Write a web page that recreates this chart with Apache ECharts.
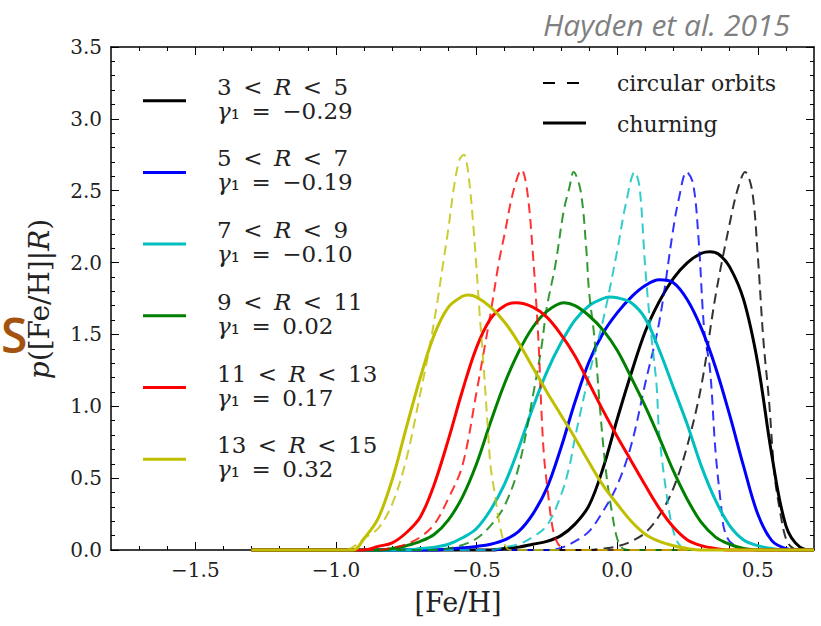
<!DOCTYPE html>
<html><head><meta charset="utf-8">
<script src="https://cdn.jsdelivr.net/npm/echarts@6/dist/echarts.min.js"></script>
<style>html,body{margin:0;padding:0;background:#fff}#c{width:821px;height:626px}</style>
</head><body><div id="c"></div><script>
// ---- tick values ----
const xMajorTicks = [-1.5, -1.0, -0.5, 0.0, 0.5];
const xMinorTicks = [-1.7,-1.6,-1.4,-1.3,-1.2,-1.1,-0.9,-0.8,-0.7,-0.6,-0.4,-0.3,-0.2,-0.1,0.1,0.2,0.3,0.4,0.6];
const yMajorTicks = [0.0, 0.5, 1.0, 1.5, 2.0, 2.5, 3.0, 3.5];
const yMinorTicks = [0.1,0.2,0.3,0.4,0.6,0.7,0.8,0.9,1.1,1.2,1.3,1.4,1.6,1.7,1.8,1.9,2.1,2.2,2.3,2.4,2.6,2.7,2.8,2.9,3.1,3.2,3.3,3.4];

// ---- legend labels ----
const rangeLo = ['3', '5', '7', '9', '11', '13'];
const rangeHi = ['5', '7', '9', '11', '13', '15'];
const gammaLabels = ['−0.29', '−0.19', '−0.10', '0.02', '0.17', '0.32'];
const binColors = ['#000000', '#0000ff', '#00bfbf', '#008000', '#ff0000', '#bfbf00'];

// ---- churning (solid) curves ----
const blackSolidX = [-1.3,-0.45,-0.4,-0.35,-0.3,-0.25,-0.2,-0.15,-0.1,-0.05,0.0,0.05,0.1,0.15,0.2,0.25,0.3,0.33,0.36,0.4,0.45,0.5,0.55,0.6,0.65,0.7];
const blackSolidY = [0,0,0.01,0.02,0.04,0.06,0.10,0.18,0.31,0.57,0.91,1.23,1.52,1.73,1.89,2.00,2.065,2.076,2.06,1.97,1.74,1.30,0.66,0.17,0.02,0];
const blueSolidX = [-1.3,-0.65,-0.6,-0.55,-0.5,-0.45,-0.4,-0.35,-0.3,-0.25,-0.2,-0.15,-0.1,-0.05,0.0,0.05,0.1,0.15,0.2,0.25,0.3,0.35,0.4,0.45,0.5,0.55,0.6,0.65,0.7];
const blueSolidY = [0,0,0.005,0.015,0.025,0.04,0.07,0.13,0.25,0.43,0.71,1.03,1.31,1.51,1.65,1.76,1.84,1.88,1.86,1.74,1.54,1.27,0.94,0.58,0.25,0.065,0.01,0,0];
const cyanSolidX = [-1.3,-0.75,-0.7,-0.65,-0.6,-0.55,-0.5,-0.45,-0.4,-0.35,-0.3,-0.25,-0.2,-0.15,-0.1,-0.05,-0.03,0.0,0.05,0.1,0.15,0.2,0.25,0.3,0.35,0.4,0.45,0.5,0.55,0.6,0.7];
const cyanSolidY = [0,0,0.01,0.02,0.04,0.085,0.15,0.28,0.46,0.71,0.99,1.24,1.44,1.60,1.70,1.75,1.76,1.755,1.72,1.61,1.39,1.13,0.87,0.58,0.345,0.17,0.07,0.03,0.01,0,0];
const greenSolidX = [-1.3,-0.85,-0.8,-0.75,-0.7,-0.65,-0.6,-0.55,-0.5,-0.45,-0.4,-0.35,-0.3,-0.25,-0.19,-0.15,-0.1,-0.05,0.0,0.05,0.1,0.15,0.2,0.25,0.3,0.35,0.4,0.45,0.5,0.7];
const greenSolidY = [0,0,0.01,0.03,0.06,0.11,0.21,0.37,0.60,0.89,1.16,1.38,1.55,1.66,1.72,1.70,1.63,1.53,1.39,1.20,1.0,0.78,0.55,0.35,0.19,0.09,0.04,0.01,0,0];
const redSolidX = [-1.3,-0.9,-0.85,-0.8,-0.75,-0.7,-0.65,-0.6,-0.55,-0.5,-0.45,-0.4,-0.36,-0.3,-0.25,-0.2,-0.15,-0.1,-0.05,0.0,0.05,0.1,0.15,0.2,0.25,0.3,0.35,0.4,0.7];
const redSolidY = [0,0,0.025,0.05,0.12,0.23,0.46,0.77,1.11,1.41,1.61,1.70,1.72,1.69,1.62,1.50,1.35,1.16,0.97,0.79,0.62,0.45,0.29,0.16,0.07,0.03,0.01,0,0];
const yellowSolidX = [-1.3,-0.94,-0.9,-0.85,-0.8,-0.75,-0.7,-0.65,-0.6,-0.55,-0.53,-0.5,-0.45,-0.4,-0.35,-0.3,-0.25,-0.2,-0.15,-0.1,-0.05,0.0,0.05,0.1,0.15,0.2,0.25,0.3,0.7];
const yellowSolidY = [0,0,0.08,0.22,0.49,0.85,1.20,1.50,1.69,1.765,1.775,1.76,1.69,1.585,1.44,1.27,1.10,0.94,0.78,0.61,0.45,0.32,0.20,0.11,0.06,0.03,0.01,0,0];

// ---- circular orbits (dashed) curves ----
const blackDashX = [-1.3,-0.1,-0.05,0.0,0.05,0.1,0.15,0.2,0.25,0.3,0.35,0.4,0.43,0.455,0.48,0.5,0.52,0.54,0.56,0.58,0.6,0.62,0.65,0.7];
const blackDashY = [0,0,0.01,0.025,0.06,0.12,0.24,0.43,0.73,1.15,1.77,2.27,2.52,2.63,2.50,2.05,1.46,1.04,0.52,0.26,0.08,0.02,0,0];
const blueDashX = [-1.3,-0.25,-0.2,-0.15,-0.1,-0.05,0.0,0.05,0.1,0.15,0.2,0.22,0.247,0.27,0.29,0.31,0.33,0.35,0.37,0.38,0.4,0.43,0.45,0.7];
const blueDashY = [0,0,0.015,0.06,0.13,0.27,0.45,0.73,1.16,1.59,2.24,2.45,2.63,2.55,2.15,1.52,1.26,0.68,0.30,0.15,0.06,0.02,0,0];
const cyanDashX = [-1.3,-0.45,-0.4,-0.35,-0.3,-0.25,-0.2,-0.17,-0.15,-0.1,-0.05,0.0,0.03,0.063,0.08,0.1,0.12,0.14,0.15,0.18,0.2,0.22,0.25,0.7];
const cyanDashY = [0,0,0.02,0.04,0.09,0.17,0.38,0.58,0.78,1.22,1.60,2.08,2.40,2.63,2.52,1.96,1.52,1.15,0.80,0.33,0.13,0.04,0,0];
const greenDashX = [-1.3,-0.65,-0.6,-0.55,-0.5,-0.45,-0.4,-0.35,-0.3,-0.27,-0.25,-0.22,-0.19,-0.17,-0.155,-0.13,-0.11,-0.1,-0.08,-0.06,-0.04,-0.02,0.0,0.02,0.04,0.7];
const greenDashY = [0,0,0.01,0.035,0.08,0.17,0.31,0.58,1.07,1.40,1.69,1.98,2.36,2.52,2.63,2.50,2.10,1.80,1.46,0.96,0.55,0.28,0.08,0.01,0,0];
const redDashX = [-1.3,-0.85,-0.8,-0.75,-0.7,-0.65,-0.6,-0.55,-0.5,-0.45,-0.42,-0.4,-0.37,-0.34,-0.32,-0.3,-0.28,-0.27,-0.26,-0.245,-0.23,-0.215,-0.2,-0.18,0.7];
const redDashY = [0,0,0.015,0.04,0.09,0.18,0.36,0.59,1.10,1.65,2.01,2.20,2.49,2.645,2.50,2.07,1.46,1.0,0.65,0.38,0.16,0.06,0.02,0,0];
const yellowDashX = [-1.3,-0.97,-0.94,-0.9,-0.85,-0.8,-0.75,-0.7,-0.67,-0.64,-0.62,-0.6,-0.58,-0.56,-0.545,-0.53,-0.51,-0.49,-0.475,-0.46,-0.45,-0.435,-0.42,-0.4,-0.38,0.7];
const yellowDashY = [0,0,0.02,0.08,0.15,0.32,0.63,1.09,1.38,1.72,1.98,2.24,2.53,2.72,2.75,2.63,2.22,1.67,1.28,0.85,0.58,0.39,0.20,0.04,0,0];

const solidSets = [[blackSolidX,blackSolidY],[blueSolidX,blueSolidY],[cyanSolidX,cyanSolidY],[greenSolidX,greenSolidY],[redSolidX,redSolidY],[yellowSolidX,yellowSolidY]];
const dashSets = [[blackDashX,blackDashY],[blueDashX,blueDashY],[cyanDashX,cyanDashY],[greenDashX,greenDashY],[redDashX,redDashY],[yellowDashX,yellowDashY]];

function pairs(xs, ys) { return xs.map((x, i) => [x, ys[i]]); }

const SERIF = 'DejaVu Serif';
const fmt = v => (v < 0 ? '−' : '') + Math.abs(v).toFixed(1);

const series = [];
for (let i = 0; i < 6; i++) {
  series.push({
    type: 'line', data: pairs(dashSets[i][0], dashSets[i][1]), showSymbol: false, symbol: 'none',
    smooth: 0.35, clip: false, silent: true,
    lineStyle: { color: binColors[i], width: 2, type: [10, 6], opacity: 0.8 }
  });
  series.push({
    type: 'line', data: pairs(solidSets[i][0], solidSets[i][1]), showSymbol: false, symbol: 'none',
    smooth: 0.35, clip: false, silent: true,
    lineStyle: { color: binColors[i], width: 3 }
  });
}

function xAx(pos, major) {
  return {
    type: 'value', min: -1.8, max: 0.7, position: pos,
    axisLine: { show: major, onZero: false, lineStyle: { color: '#000', width: 1.5 } },
    axisTick: { show: true, inside: true, length: major ? 8 : 4, customValues: major ? xMajorTicks : xMinorTicks, lineStyle: { color: '#000', width: 1 } },
    axisLabel: { show: major && pos === 'bottom', customValues: xMajorTicks, formatter: fmt, margin: 10, fontFamily: SERIF, fontSize: 20, color: '#222' },
    splitLine: { show: false }
  };
}
function yAx(pos, major) {
  return {
    type: 'value', min: 0, max: 3.5, position: pos,
    axisLine: { show: major, onZero: false, lineStyle: { color: '#000', width: 1.5 } },
    axisTick: { show: true, inside: true, length: major ? 8 : 4, customValues: major ? yMajorTicks : yMinorTicks, lineStyle: { color: '#000', width: 1 } },
    axisLabel: { show: major && pos === 'left', customValues: yMajorTicks, formatter: fmt, margin: 9, fontFamily: SERIF, fontSize: 20, color: '#222' },
    splitLine: { show: false }
  };
}

const italic = { fontFamily: SERIF, fontStyle: 'italic', fill: '#222' };
const graphics = [];
for (let i = 0; i < 6; i++) {
  const cy = 100.7 + i * 71.7;
  graphics.push({ type: 'line', shape: { x1: 143, y1: cy, x2: 186, y2: cy }, style: { stroke: binColors[i], lineWidth: 3 }, silent: true });
  graphics.push({ type: 'text', x: 217, y: cy - 2, silent: true, style: {
    text: rangeLo[i] + '\u2002<\u2002{i|R}\u2002<\u2002' + rangeHi[i] + '\n{i|γ}₁\u2002=\u2002' + gammaLabels[i],
    fontFamily: SERIF, fontSize: 23, lineHeight: 24, fill: '#222', verticalAlign: 'middle', align: 'left',
    rich: { i: Object.assign({ fontSize: 23, lineHeight: 24 }, italic) } } });
}
// right legend
graphics.push({ type: 'line', shape: { x1: 543, y1: 83, x2: 579, y2: 83 }, style: { stroke: '#000', lineWidth: 2, lineDash: [12, 12] }, silent: true });
graphics.push({ type: 'text', x: 617, y: 83, silent: true, style: { text: 'circular orbits', fontFamily: SERIF, fontSize: 22, fill: '#222', verticalAlign: 'middle' } });
graphics.push({ type: 'line', shape: { x1: 543, y1: 123, x2: 586, y2: 123 }, style: { stroke: '#000', lineWidth: 3 }, silent: true });
graphics.push({ type: 'text', x: 617, y: 124, silent: true, style: { text: 'churning', fontFamily: SERIF, fontSize: 22, fill: '#222', verticalAlign: 'middle' } });
// axis titles
graphics.push({ type: 'text', x: 458, y: 602, silent: true, style: { text: '[Fe/H]', fontFamily: SERIF, fontSize: 27, fill: '#222', align: 'center', verticalAlign: 'middle' } });
graphics.push({ type: 'text', x: 39, y: 299, rotation: Math.PI / 2, silent: true, style: {
  text: '{i|p}([Fe/H]|{i|R})', fontFamily: SERIF, fontSize: 28, fill: '#222', align: 'center', verticalAlign: 'middle',
  rich: { i: Object.assign({ fontSize: 28 }, italic) } } });
// citation
graphics.push({ type: 'text', x: 790, y: 24, silent: true, style: { text: 'Hayden et al. 2015', fontFamily: 'Open Sans', fontStyle: 'italic', fontSize: 30, fill: '#7f7f7f', align: 'right', verticalAlign: 'middle' } });
// slide fragment at left edge
graphics.push({ type: 'text', x: 1, y: 334, silent: true, style: { text: 'S', fontFamily: 'Open Sans', fontWeight: 600, fontSize: 48, fill: '#a3520f', align: 'left', verticalAlign: 'middle' } });

const chart = echarts.init(document.getElementById('c'), null, { renderer: 'svg' });
chart.setOption({
  animation: false,
  backgroundColor: '#fff',
  grid: { left: 111, top: 47, width: 703, height: 503, show: false },
  xAxis: [xAx('bottom', true), xAx('bottom', false), xAx('top', true), xAx('top', false)],
  yAxis: [yAx('left', true), yAx('left', false), yAx('right', true), yAx('right', false)],
  series: series,
  graphic: graphics
});
</script></body></html>
